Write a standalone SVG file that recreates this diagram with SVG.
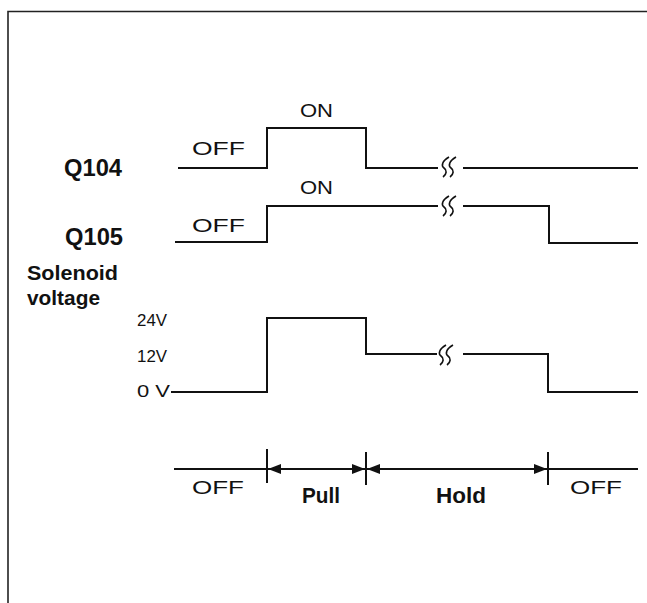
<svg xmlns="http://www.w3.org/2000/svg" width="647" height="603" viewBox="0 0 647 603">
<style>
.w{fill:none;stroke:#111;stroke-width:2;stroke-linejoin:miter}
.sq{fill:none;stroke:#111;stroke-width:1.6}
.fr{fill:none;stroke:#222;stroke-width:1.6}
.lt{font-family:"Liberation Sans",Arial,sans-serif;font-size:19px;fill:#111}
.bd{font-family:"Liberation Sans",Arial,sans-serif;font-weight:bold;fill:#111}
.vv{font-family:"Liberation Sans",Arial,sans-serif;font-size:17px;fill:#111}
</style>
<defs>
<marker id="ah" markerUnits="userSpaceOnUse" markerWidth="13" markerHeight="10" refX="13" refY="5" orient="auto-start-reverse">
<path d="M0,0 L13,5 L0,10 Z" fill="#111"/>
</marker>
<path id="brk" d="M4,-10 C-3,-6 -4,-1 -1,1 C2,3 2,7 -2,10 M11,-10 C4,-6 3,-1 6,1 C9,3 9,7 5,10"/>
</defs>
<rect width="647" height="603" fill="#fff"/>
<path class="fr" d="M8,603 V11.5 H647"/>

<g id="q104">
<text class="bd" x="64" y="176" font-size="23" textLength="58" lengthAdjust="spacingAndGlyphs">Q104</text>
<text class="lt" x="192" y="155" textLength="53" lengthAdjust="spacingAndGlyphs">OFF</text>
<text class="lt" x="300" y="117" textLength="33" lengthAdjust="spacingAndGlyphs">ON</text>
<path class="w" d="M178,168 H267 V128 H366 V168 H438 M463,168 H638"/>
<use href="#brk" class="sq" x="445" y="167"/>
</g>

<g id="q105">
<text class="bd" x="65" y="245" font-size="23" textLength="58" lengthAdjust="spacingAndGlyphs">Q105</text>
<text class="lt" x="192" y="232" textLength="53" lengthAdjust="spacingAndGlyphs">OFF</text>
<text class="lt" x="300" y="194" textLength="33" lengthAdjust="spacingAndGlyphs">ON</text>
<path class="w" d="M175,242 H267 V206 H438 M463,206 H549 V243 H638"/>
<use href="#brk" class="sq" x="445" y="206"/>
</g>

<g id="solenoid">
<text class="bd" x="27" y="280" font-size="20" textLength="91" lengthAdjust="spacingAndGlyphs">Solenoid</text>
<text class="bd" x="27" y="305" font-size="20" textLength="73" lengthAdjust="spacingAndGlyphs">voltage</text>
<text class="vv" x="137" y="326" textLength="30" lengthAdjust="spacingAndGlyphs">24V</text>
<text class="vv" x="137" y="362" textLength="30" lengthAdjust="spacingAndGlyphs">12V</text>
<text class="vv" x="137" y="397" textLength="33" lengthAdjust="spacingAndGlyphs">0 V</text>
<path class="w" d="M171,392 H267 V318 H366 V354 H437 M463,354 H548 V392 H638"/>
<use href="#brk" class="sq" x="442" y="355"/>
</g>

<g id="timeline">
<path class="w" d="M174,469 H638" stroke-width="1.6"/>
<path class="w" d="M267,449 V483 M366,452 V485 M548,452 V485" stroke-width="1.6"/>
<text class="lt" x="192" y="494" textLength="52" lengthAdjust="spacingAndGlyphs">OFF</text>
<text class="bd" x="302" y="503" font-size="22" textLength="38" lengthAdjust="spacingAndGlyphs">Pull</text>
<text class="bd" x="436" y="503" font-size="22" textLength="50" lengthAdjust="spacingAndGlyphs">Hold</text>
<text class="lt" x="570" y="494" textLength="52" lengthAdjust="spacingAndGlyphs">OFF</text>
</g>

<g id="connectors">
<path class="w" d="M268,469 H365" stroke-width="1.6" marker-start="url(#ah)" marker-end="url(#ah)"/>
<path class="w" d="M367,469 H547" stroke-width="1.6" marker-start="url(#ah)" marker-end="url(#ah)"/>
</g>
</svg>
